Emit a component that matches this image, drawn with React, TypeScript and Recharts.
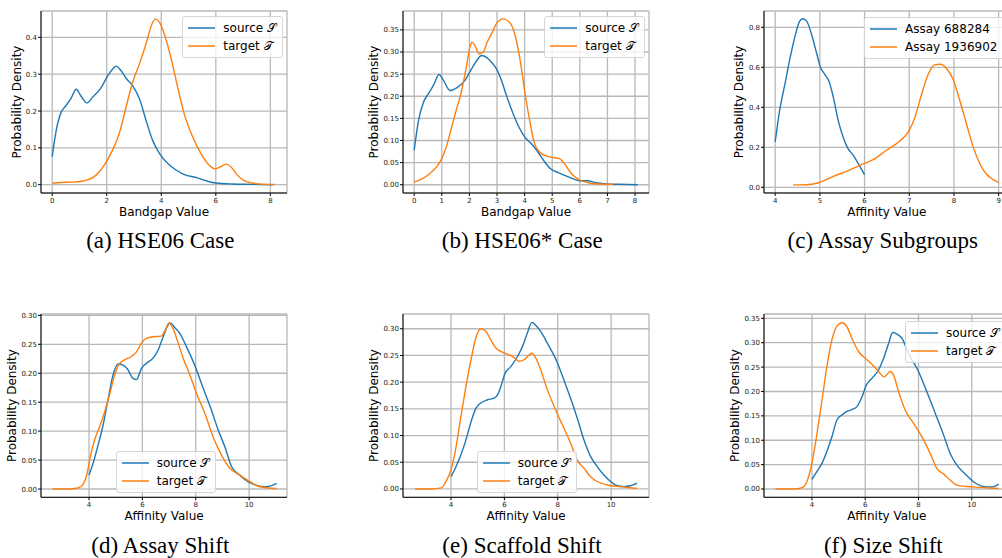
import React from "react";
import {
  LineChart,
  Line,
  XAxis,
  YAxis,
  CartesianGrid,
  Legend,
  Label,
} from "recharts";

const BLUE = "#1f77b4";
const ORANGE = "#ff7f0e";

// (a) HSE06 case
const hseSourceX = [0, 0.15, 0.33, 0.51, 0.7, 0.88, 1.06, 1.27, 1.49, 1.79, 2.04, 2.22, 2.34, 2.52, 2.71, 2.95, 3.2, 3.44, 3.68, 3.93, 4.23, 4.54, 4.9, 5.27, 5.63, 6.0, 6.6, 7.34, 8.1];
const hseSourceY = [0.076, 0.148, 0.197, 0.215, 0.236, 0.259, 0.24, 0.222, 0.238, 0.263, 0.296, 0.314, 0.322, 0.31, 0.289, 0.269, 0.233, 0.175, 0.121, 0.085, 0.058, 0.04, 0.026, 0.02, 0.011, 0.0045, 0.002, 0.001, 0];
const hseTargetX = [0.02, 0.27, 0.76, 1.12, 1.3, 1.61, 1.91, 2.24, 2.46, 2.71, 2.95, 3.2, 3.44, 3.66, 3.78, 3.93, 4.11, 4.35, 4.6, 4.84, 5.15, 5.45, 5.76, 5.98, 6.18, 6.37, 6.55, 6.79, 7.04, 7.34, 7.83, 8.17];
const hseTargetY = [0.004, 0.006, 0.007, 0.01, 0.013, 0.026, 0.053, 0.098, 0.139, 0.211, 0.278, 0.328, 0.382, 0.436, 0.45, 0.441, 0.409, 0.346, 0.265, 0.193, 0.13, 0.085, 0.053, 0.043, 0.049, 0.056, 0.049, 0.026, 0.011, 0.0045, 0.001, 0.001];

// (b) HSE06* case
const hseStarSourceX = [0, 0.16, 0.34, 0.52, 0.7, 0.9, 1.06, 1.3, 1.54, 1.84, 2.08, 2.28, 2.44, 2.62, 2.8, 2.98, 3.16, 3.34, 3.58, 3.82, 4.0, 4.24, 4.48, 4.72, 4.96, 5.2, 5.5, 5.74, 5.98, 6.28, 6.58, 6.94, 7.42, 8.1];
const hseStarSourceY = [0.078, 0.146, 0.187, 0.206, 0.225, 0.249, 0.236, 0.213, 0.219, 0.236, 0.262, 0.282, 0.292, 0.288, 0.277, 0.262, 0.236, 0.202, 0.161, 0.127, 0.108, 0.093, 0.074, 0.052, 0.035, 0.028, 0.02, 0.014, 0.009, 0.009, 0.0045, 0.002, 0.001, 0];
const hseStarTargetX = [0, 0.28, 0.58, 0.82, 1.0, 1.18, 1.36, 1.54, 1.72, 1.9, 2.02, 2.1, 2.2, 2.35, 2.5, 2.64, 2.8, 2.98, 3.22, 3.46, 3.64, 3.82, 4.0, 4.18, 4.36, 4.54, 4.78, 5.08, 5.26, 5.44, 5.68, 5.98, 6.34, 6.7, 7.2];
const hseStarTargetY = [0.006, 0.013, 0.026, 0.041, 0.059, 0.089, 0.131, 0.172, 0.213, 0.27, 0.311, 0.322, 0.315, 0.296, 0.3, 0.322, 0.341, 0.364, 0.375, 0.367, 0.341, 0.288, 0.213, 0.146, 0.093, 0.074, 0.065, 0.061, 0.059, 0.048, 0.026, 0.011, 0.004, 0.0015, 0.001];

// (c) assay subgroups
const assayAX = [4.0, 4.1, 4.22, 4.33, 4.44, 4.54, 4.61, 4.7, 4.81, 4.93, 5.01, 5.11, 5.21, 5.3, 5.41, 5.52, 5.63, 5.75, 5.86, 6.0];
const assayAY = [0.227, 0.385, 0.518, 0.643, 0.752, 0.827, 0.843, 0.832, 0.768, 0.668, 0.602, 0.565, 0.527, 0.452, 0.335, 0.252, 0.193, 0.16, 0.118, 0.063];
const assayBX = [4.4, 4.7, 4.93, 5.07, 5.3, 5.6, 5.9, 6.19, 6.49, 6.79, 6.98, 7.13, 7.28, 7.43, 7.57, 7.69, 7.84, 7.99, 8.13, 8.28, 8.43, 8.58, 8.73, 8.88, 9.0];
const assayBY = [0.012, 0.013, 0.02, 0.032, 0.055, 0.08, 0.11, 0.138, 0.185, 0.232, 0.277, 0.352, 0.468, 0.568, 0.612, 0.615, 0.593, 0.535, 0.435, 0.318, 0.202, 0.118, 0.065, 0.038, 0.023];

// (d) assay shift
const assaySourceX = [4.0, 4.15, 4.34, 4.53, 4.71, 4.9, 5.09, 5.28, 5.46, 5.65, 5.78, 5.96, 6.15, 6.4, 6.59, 6.78, 6.96, 7.05, 7.21, 7.4, 7.65, 7.96, 8.28, 8.59, 8.84, 9.09, 9.34, 9.65, 9.96, 10.28, 10.59, 10.84, 11.03];
const assaySourceY = [0.024, 0.044, 0.076, 0.111, 0.154, 0.197, 0.216, 0.214, 0.206, 0.191, 0.189, 0.208, 0.217, 0.226, 0.24, 0.263, 0.283, 0.287, 0.279, 0.269, 0.246, 0.214, 0.174, 0.136, 0.102, 0.073, 0.039, 0.024, 0.0127, 0.0063, 0.004, 0.0058, 0.0098];
const assayTargetX = [2.63, 3.15, 3.59, 3.78, 3.93, 4.05, 4.21, 4.4, 4.59, 4.78, 4.96, 5.15, 5.34, 5.59, 5.78, 5.96, 6.15, 6.4, 6.71, 6.86, 7.0, 7.15, 7.34, 7.53, 7.78, 8.03, 8.34, 8.65, 8.96, 9.28, 9.65, 10.03, 10.4, 11.03];
const assayTargetY = [0, 0, 0.0017, 0.0086, 0.027, 0.056, 0.085, 0.108, 0.134, 0.165, 0.197, 0.217, 0.223, 0.229, 0.237, 0.252, 0.26, 0.263, 0.264, 0.275, 0.287, 0.277, 0.252, 0.226, 0.197, 0.165, 0.131, 0.09, 0.059, 0.036, 0.024, 0.0127, 0.004, 0.001];

// (e) scaffold shift
const scaffoldSourceX = [4.0, 4.19, 4.37, 4.56, 4.75, 4.93, 5.12, 5.37, 5.62, 5.74, 5.87, 6.02, 6.24, 6.49, 6.68, 6.86, 7.03, 7.18, 7.36, 7.61, 7.99, 8.23, 8.48, 8.73, 8.98, 9.23, 9.48, 9.73, 9.98, 10.23, 10.48, 10.72, 10.97];
const scaffoldSourceY = [0.023, 0.042, 0.064, 0.092, 0.126, 0.151, 0.161, 0.167, 0.17, 0.176, 0.192, 0.216, 0.229, 0.248, 0.267, 0.292, 0.312, 0.306, 0.295, 0.273, 0.236, 0.204, 0.17, 0.133, 0.092, 0.061, 0.042, 0.026, 0.014, 0.006, 0.0044, 0.006, 0.011];
const scaffoldTargetX = [2.65, 3.25, 3.63, 3.81, 4.0, 4.19, 4.37, 4.56, 4.75, 4.93, 5.12, 5.31, 5.49, 5.68, 5.93, 6.18, 6.39, 6.55, 6.74, 6.93, 7.03, 7.18, 7.36, 7.61, 7.92, 8.23, 8.48, 8.73, 8.98, 9.23, 9.48, 9.85, 10.35, 10.97];
const scaffoldTargetY = [0, 0, 0.002, 0.014, 0.036, 0.079, 0.136, 0.192, 0.242, 0.283, 0.3, 0.295, 0.279, 0.264, 0.256, 0.251, 0.245, 0.239, 0.242, 0.251, 0.254, 0.245, 0.223, 0.186, 0.148, 0.114, 0.086, 0.054, 0.039, 0.023, 0.014, 0.0075, 0.0044, 0.001];

// (f) size shift
const sizeSourceX = [4.0, 4.19, 4.38, 4.56, 4.75, 4.94, 5.13, 5.31, 5.5, 5.69, 5.88, 6.04, 6.25, 6.5, 6.69, 6.88, 7.03, 7.19, 7.38, 7.63, 8.0, 8.31, 8.63, 8.94, 9.19, 9.44, 9.75, 10.06, 10.38, 10.69, 10.88, 11.01];
const sizeSourceY = [0.02, 0.036, 0.053, 0.077, 0.107, 0.142, 0.152, 0.159, 0.163, 0.169, 0.189, 0.213, 0.227, 0.244, 0.268, 0.299, 0.321, 0.318, 0.309, 0.278, 0.241, 0.2, 0.155, 0.111, 0.073, 0.049, 0.031, 0.015, 0.006, 0.004, 0.006, 0.01];
const sizeTargetX = [2.63, 3.31, 3.63, 3.81, 4.0, 4.19, 4.38, 4.56, 4.75, 4.94, 5.13, 5.31, 5.5, 5.75, 6.0, 6.25, 6.5, 6.71, 6.94, 7.06, 7.25, 7.5, 7.81, 8.13, 8.44, 8.69, 8.94, 9.19, 9.44, 9.81, 10.31, 11.0];
const sizeTargetY = [0, 0, 0.003, 0.015, 0.053, 0.114, 0.183, 0.251, 0.306, 0.334, 0.341, 0.333, 0.309, 0.282, 0.268, 0.256, 0.241, 0.23, 0.241, 0.234, 0.2, 0.162, 0.135, 0.107, 0.073, 0.042, 0.031, 0.018, 0.008, 0.005, 0.0034, 0.001];

const bandgapTicks = [0, 2, 4, 6, 8];
const bandgapTicksDense = [0, 1, 2, 3, 4, 5, 6, 7, 8];
const affinityTicks = [4, 6, 8, 10];
const subgroupTicks = [4, 5, 6, 7, 8, 9];

const SOURCE = "source \u{1D4AE}";
const TARGET = "target \u{1D4AF}";

type Pt = { x: number; y: number };
const zip = (xs: number[], ys: number[]): Pt[] => xs.map((x, i) => ({ x, y: ys[i] }));

interface Series {
  name: string;
  color: string;
  data: Pt[];
}

interface PanelProps {
  frame: { left: number; top: number; width: number; height: number };
  xDomain: [number, number];
  yDomain: [number, number];
  xTicks: number[];
  yTicks: number[];
  yDigits: number;
  xLabel: string;
  yLabelOffset: number;
  series: Series[];
  legendAt: { left: number; top: number };
  caption: string;
  captionX: number;
  captionTop: number;
}

const AXIS_W = 45;
const AXIS_H = 30;
const PAD = 5;

// legend drawn from our own series list so order and colours stay as plotted
const LegendBox = ({ series }: { series: Series[] }) => (
  <div
    style={{
      display: "inline-block",
      border: "1px solid #d6d6d6",
      borderRadius: 3,
      background: "rgba(255,255,255,0.8)",
      padding: "2px 6px 2px 5px",
      whiteSpace: "nowrap",
    }}
  >
    {series.map((s) => (
      <div key={s.name} style={{ display: "flex", alignItems: "center", height: 18 }}>
        <svg width={27} height={4} style={{ marginRight: 8, display: "block" }}>
          <line x1={0} y1={2} x2={27} y2={2} stroke={s.color} strokeWidth={1.5} />
        </svg>
        <span style={{ fontSize: 12, color: "#000" }}>{s.name}</span>
      </div>
    ))}
  </div>
);

const Panel = (p: PanelProps) => {
  const { frame } = p;
  const chartLeft = frame.left - AXIS_W;
  const chartTop = frame.top - PAD;
  const tickStyle = { fontSize: 7, fill: "#222" };

  return (
    <>
      <div style={{ position: "absolute", left: chartLeft, top: chartTop }}>
        <LineChart
          width={frame.width + AXIS_W + PAD}
          height={frame.height + PAD + AXIS_H}
          margin={{ top: PAD, right: PAD, bottom: 0, left: 0 }}
        >
          <CartesianGrid stroke="#b8b8b8" strokeWidth={1.3} />
          <XAxis
            dataKey="x"
            type="number"
            domain={p.xDomain}
            allowDataOverflow
            ticks={p.xTicks}
            interval={0}
            height={AXIS_H}
            tick={tickStyle}
            tickSize={3}
            tickMargin={2}
            axisLine={{ stroke: "#000" }}
            tickLine={{ stroke: "#000" }}
          >
            <Label
              value={p.xLabel}
              position="insideBottom"
              offset={7}
              style={{ fontSize: 12, fill: "#000" }}
            />
          </XAxis>
          <YAxis
            type="number"
            domain={p.yDomain}
            allowDataOverflow
            ticks={p.yTicks}
            interval={0}
            width={AXIS_W}
            tick={tickStyle}
            tickSize={3}
            tickMargin={1}
            tickFormatter={(v: number) => v.toFixed(p.yDigits)}
            axisLine={{ stroke: "#000" }}
            tickLine={{ stroke: "#000" }}
          >
            <Label
              value="Probability Density"
              angle={-90}
              position="insideLeft"
              offset={p.yLabelOffset}
              style={{ fontSize: 12, fill: "#000", textAnchor: "middle" }}
            />
          </YAxis>
          <XAxis
            xAxisId="top"
            orientation="top"
            type="number"
            domain={p.xDomain}
            allowDataOverflow
            height={0}
            tick={false}
            tickLine={false}
            axisLine={{ stroke: "#000" }}
          />
          <YAxis
            yAxisId="right"
            orientation="right"
            type="number"
            domain={p.yDomain}
            allowDataOverflow
            width={0}
            tick={false}
            tickLine={false}
            axisLine={{ stroke: "#000" }}
          />
          <Legend
            layout="vertical"
            align="center"
            verticalAlign="middle"
            content={() => <LegendBox series={p.series} />}
            wrapperStyle={{
              left: p.legendAt.left - chartLeft,
              top: p.legendAt.top - chartTop,
              width: "auto",
              height: "auto",
              zIndex: 10,
            }}
          />
          {p.series.map((s) => (
            <Line
              key={s.name}
              data={s.data}
              dataKey="y"
              name={s.name}
              type="monotone"
              stroke={s.color}
              strokeWidth={1.4}
              dot={false}
              activeDot={false}
              isAnimationActive={false}
            />
          ))}
        </LineChart>
      </div>
      <div
        style={{
          position: "absolute",
          left: p.captionX - 150,
          top: p.captionTop,
          width: 300,
          textAlign: "center",
          fontFamily: "'Liberation Serif', serif",
          fontSize: 23,
          lineHeight: "23px",
          color: "#000",
          whiteSpace: "nowrap",
        }}
      >
        {p.caption}
      </div>
    </>
  );
};

const panels: PanelProps[] = [
  {
    frame: { left: 41.3, top: 10.7, width: 246, height: 182 },
    xDomain: [-0.41, 8.61],
    yDomain: [-0.0225, 0.4715],
    xTicks: bandgapTicks,
    yTicks: [0, 0.1, 0.2, 0.3, 0.4],
    yDigits: 1,
    xLabel: "Bandgap Value",
    yLabelOffset: 20.4,
    series: [
      { name: SOURCE, color: BLUE, data: zip(hseSourceX, hseSourceY) },
      { name: TARGET, color: ORANGE, data: zip(hseTargetX, hseTargetY) },
    ],
    legendAt: { left: 182.3, top: 15.7 },
    caption: "(a) HSE06 Case",
    captionX: 160.3,
    captionTop: 229.2,
  },
  {
    frame: { left: 402.7, top: 10.7, width: 246, height: 182 },
    xDomain: [-0.405, 8.505],
    yDomain: [-0.0187, 0.3927],
    xTicks: bandgapTicksDense,
    yTicks: [0, 0.05, 0.1, 0.15, 0.2, 0.25, 0.3, 0.35],
    yDigits: 2,
    xLabel: "Bandgap Value",
    yLabelOffset: 16,
    series: [
      { name: SOURCE, color: BLUE, data: zip(hseStarSourceX, hseStarSourceY) },
      { name: TARGET, color: ORANGE, data: zip(hseStarTargetX, hseStarTargetY) },
    ],
    legendAt: { left: 544.3, top: 16 },
    caption: "(b) HSE06* Case",
    captionX: 522.3,
    captionTop: 229.2,
  },
  {
    frame: { left: 764, top: 10.7, width: 245.8, height: 182 },
    xDomain: [3.75, 9.25],
    yDomain: [-0.0285, 0.8815],
    xTicks: subgroupTicks,
    yTicks: [0, 0.2, 0.4, 0.6, 0.8],
    yDigits: 1,
    xLabel: "Affinity Value",
    yLabelOffset: 19.7,
    series: [
      { name: "Assay 688284", color: BLUE, data: zip(assayAX, assayAY) },
      { name: "Assay 1936902", color: ORANGE, data: zip(assayBX, assayBY) },
    ],
    legendAt: { left: 864, top: 17.3 },
    caption: "(c) Assay Subgroups",
    captionX: 882.8,
    captionTop: 229.2,
  },
  {
    frame: { left: 41.3, top: 314, width: 246, height: 183.3 },
    xDomain: [2.2, 11.42],
    yDomain: [-0.0143, 0.3023],
    xTicks: affinityTicks,
    yTicks: [0, 0.05, 0.1, 0.15, 0.2, 0.25, 0.3],
    yDigits: 2,
    xLabel: "Affinity Value",
    yLabelOffset: 15.4,
    series: [
      { name: SOURCE, color: BLUE, data: zip(assaySourceX, assaySourceY) },
      { name: TARGET, color: ORANGE, data: zip(assayTargetX, assayTargetY) },
    ],
    legendAt: { left: 115.7, top: 451.3 },
    caption: "(d) Assay Shift",
    captionX: 160.3,
    captionTop: 534.2,
  },
  {
    frame: { left: 402.7, top: 314, width: 246, height: 183.3 },
    xDomain: [2.2, 11.42],
    yDomain: [-0.0156, 0.3276],
    xTicks: affinityTicks,
    yTicks: [0, 0.05, 0.1, 0.15, 0.2, 0.25, 0.3],
    yDigits: 2,
    xLabel: "Affinity Value",
    yLabelOffset: 15.7,
    series: [
      { name: SOURCE, color: BLUE, data: zip(scaffoldSourceX, scaffoldSourceY) },
      { name: TARGET, color: ORANGE, data: zip(scaffoldTargetX, scaffoldTargetY) },
    ],
    legendAt: { left: 476.7, top: 450.7 },
    caption: "(e) Scaffold Shift",
    captionX: 522,
    captionTop: 534.2,
  },
  {
    frame: { left: 764, top: 314, width: 245.6, height: 183.3 },
    xDomain: [2.2, 11.42],
    yDomain: [-0.017, 0.3589],
    xTicks: affinityTicks,
    yTicks: [0, 0.05, 0.1, 0.15, 0.2, 0.25, 0.3, 0.35],
    yDigits: 2,
    xLabel: "Affinity Value",
    yLabelOffset: 15.4,
    series: [
      { name: SOURCE, color: BLUE, data: zip(sizeSourceX, sizeSourceY) },
      { name: TARGET, color: ORANGE, data: zip(sizeTargetX, sizeTargetY) },
    ],
    legendAt: { left: 905, top: 320.7 },
    caption: "(f) Size Shift",
    captionX: 883.3,
    captionTop: 534.2,
  },
];

export default function App() {
  return (
    <div
      style={{
        position: "fixed",
        left: 0,
        top: 0,
        width: 1002,
        height: 558,
        overflow: "hidden",
        background: "#fff",
        fontFamily: "'DejaVu Sans', sans-serif",
      }}
    >
      {panels.map((p) => (
        <Panel key={p.caption} {...p} />
      ))}
    </div>
  );
}
